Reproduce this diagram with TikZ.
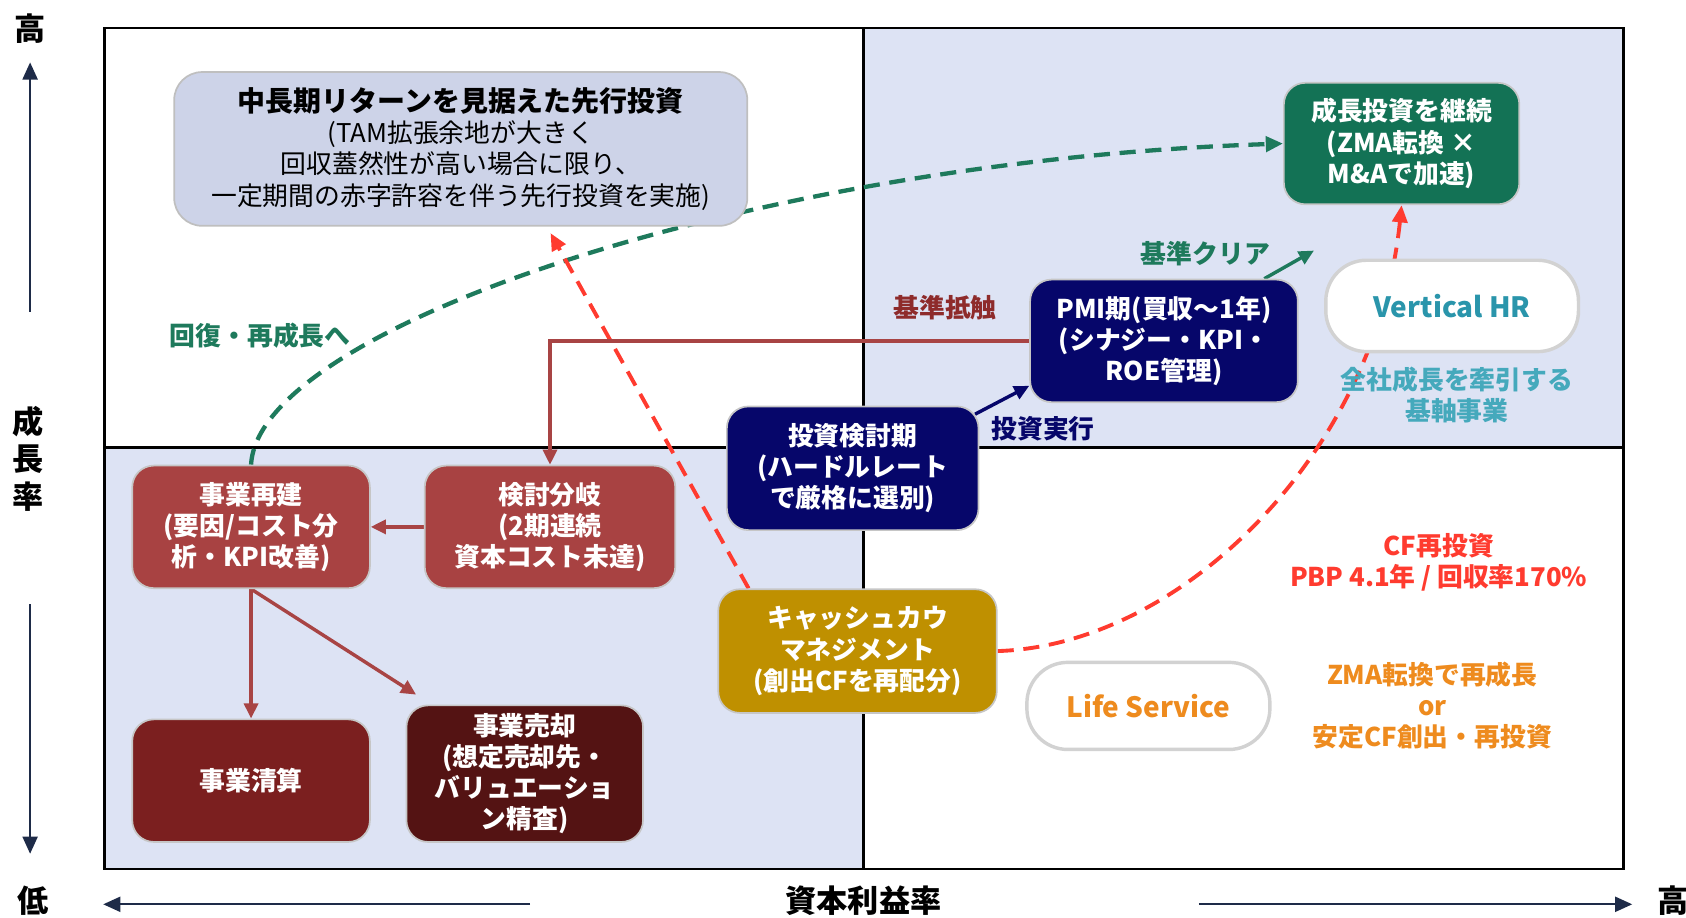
\documentclass[tikz,border=0pt]{standalone}
\usepackage{fontspec}
\setmainfont{Noto Sans CJK JP}
\usetikzlibrary{arrows.meta}
\definecolor{quad}{HTML}{DDE3F4}
\definecolor{tlfill}{HTML}{CDD3E8}
\definecolor{gbox}{HTML}{137255}
\definecolor{navy}{HTML}{06066A}
\definecolor{rbox}{HTML}{A84242}
\definecolor{liqc}{HTML}{7B1F1F}
\definecolor{sellc}{HTML}{541313}
\definecolor{gold}{HTML}{BF9000}
\definecolor{teal}{HTML}{2A95AB}
\definecolor{teall}{HTML}{45A9BC}
\definecolor{orng}{HTML}{EE8B1E}
\definecolor{rtxt}{HTML}{FF3B2F}
\definecolor{gtxt}{HTML}{1E7A5C}
\definecolor{drtxt}{HTML}{8E2B2B}
\definecolor{axisc}{HTML}{1E2B48}
\definecolor{rline}{HTML}{A84444}
\pgfdeclarelayer{bg}
\pgfdeclarelayer{mid}
\pgfsetlayers{bg,mid,main}
\tikzset{
  box/.style={rounded corners=10pt, draw=gray!45, line width=0.8pt, align=center,
    font=\bfseries\fontsize{12}{14.5}\selectfont, text=white, inner sep=0pt},
  pill/.style={rounded corners=19pt, draw=gray!35, line width=1.6pt, fill=white,
    font=\bfseries\fontsize{13}{15}\selectfont, inner sep=0pt},
  lbl/.style={font=\bfseries\fontsize{12}{14.5}\selectfont, align=center, inner sep=0pt},
  axlbl/.style={font=\bfseries\fontsize{14.5}{17}\selectfont, inner sep=0pt},
  axarrow/.style={draw=axisc, line width=1pt, -{Triangle[length=8pt,width=7pt]}},
  dashg/.style={draw=gtxt, line width=2pt, dash pattern=on 7.5pt off 4.5pt, -{Triangle[length=8pt,width=7pt]}},
  dashr/.style={draw=rtxt, line width=1.8pt, dash pattern=on 7.5pt off 4.5pt, -{Triangle[length=8pt,width=7pt]}},
  conn/.style={line width=1.6pt, -{Triangle[length=7pt,width=6.5pt]}}
}
\begin{document}
\begin{tikzpicture}[x=0.5pt,y=-0.5pt]
\useasboundingbox (0,0) rectangle (1568,853);
\begin{pgfonlayer}{bg}
  \fill[quad] (803,26) rectangle (1510,416);
  \fill[quad] (97,416) rectangle (803,808);
  \draw[line width=1.2pt] (97,26) rectangle (1510,808);
  \draw[line width=1.2pt] (803,26) -- (803,808);
  \draw[line width=1.2pt] (97,416) -- (1510,416);
\end{pgfonlayer}

% axes
\node[axlbl] (yhi) at (28,27) {高};
\node[axlbl] (ya) at (26,392) {成};
\node[axlbl] (yb) at (26,427) {長};
\node[axlbl] (yc) at (26,462) {率};
\node[axlbl] (ylo) at (31,838) {低};
\node[axlbl] (xlbl) at (803,838) {資本利益率};
\node[axlbl] (xhi) at (1556,838) {高};
\coordinate (yu0) at (28,290); \coordinate (yu1) at (28,58);
\coordinate (yd0) at (28,562); \coordinate (yd1) at (28,794);
\coordinate (xl0) at (493,841); \coordinate (xl1) at (96,841);
\coordinate (xr0) at (1115,841); \coordinate (xr1) at (1518,841);
\draw[axarrow] (yu0) -- (yu1);
\draw[axarrow] (yd0) -- (yd1);
\draw[axarrow] (xl0) -- (xl1);
\draw[axarrow] (xr0) -- (xr1);

% nodes
\node[box, rounded corners=13pt, fill=tlfill, text=black, draw=gray!50, minimum width=266.5pt, minimum height=71.5pt] (tl) at (428.5,138.5)
  {{\fontsize{13}{15.5}\selectfont 中長期リターンを見据えた先行投資}\\
   \mdseries (TAM拡張余地が大きく\\ \mdseries 回収蓋然性が高い場合に限り、\\ \mdseries 一定期間の赤字許容を伴う先行投資を実施)};
\node[box, fill=gbox, minimum width=109.5pt, minimum height=56.5pt] (grow) at (1303.5,133.5)
  {成長投資を継続\\(ZMA転換 ×\\M\&Aで加速)};
\node[pill, text=teal, minimum width=117.5pt, minimum height=42.5pt] (vhr) at (1350.5,284.5) {Vertical HR};
\node[box, fill=navy, minimum width=124.5pt, minimum height=57pt] (pmi) at (1082.5,317)
  {PMI期(買収～1年)\\(シナジー・KPI・\\ROE管理)};
\node[box, fill=navy, minimum width=117pt, minimum height=57.5pt] (inv) at (793,435.5)
  {投資検討期\\(ハードルレート\\で厳格に選別)};
\node[box, fill=rbox, minimum width=116.5pt, minimum height=57pt] (branch) at (511.5,490)
  {検討分岐\\(2期連続\\資本コスト未達)};
\node[box, fill=rbox, minimum width=110.5pt, minimum height=57pt] (rebuild) at (233.5,490)
  {事業再建\\(要因/コスト分\\析・KPI改善)};
\node[box, fill=liqc, minimum width=110.5pt, minimum height=57pt] (liq) at (233.5,726) {事業清算};
\node[box, fill=sellc, minimum width=110pt, minimum height=63.5pt] (sell) at (488,719.5)
  {事業売却\\(想定売却先・\\バリュエーショ\\ン精査)};
\node[box, fill=gold, minimum width=129.5pt, minimum height=57.5pt] (cash) at (797.5,605.5)
  {キャッシュカウ\\マネジメント\\(創出CFを再配分)};
\node[pill, text=orng, minimum width=113pt, minimum height=40.5pt] (life) at (1068,656.5) {Life Service};

% labels
\node[lbl, text=gtxt] (clrl) at (1121,236) {基準クリア};
\node[lbl, text=drtxt] (tchl) at (879,286) {基準抵触};
\node[lbl, text=navy] (exel) at (970,399) {投資実行};
\node[lbl, text=gtxt] (recl) at (242,312) {回復・再成長へ};
\node[lbl, text=rtxt] (cfl) at (1338,523) {CF再投資\\PBP 4.1年 / 回収率170\%};
\node[lbl, text=orng] (zmal) at (1332,656) {ZMA転換で再成長\\or\\安定CF創出・再投資};
\node[lbl, text=teall] (vhrl) at (1355,367) {全社成長を牽引する\\基軸事業};

% connectors
\coordinate (clr) at (1222,233);
\coordinate (sellarr) at (387,646);
\begin{pgfonlayer}{mid}
  \draw[dashg] (rebuild.north) .. controls (240,305) and (700,150) .. (grow.west);
  \draw[dashr] ([xshift=14.5pt]cash.north west) -- ([xshift=41.75pt,yshift=-3pt]tl.south);
  \draw[dashr] (cash.east) .. controls (1100,600) and (1280,420) .. (grow.south);
  \draw[conn, draw=navy] ([xshift=-2pt,yshift=-4pt]inv.north east) -- ([yshift=8pt]pmi.south west);
  \draw[conn, draw=gtxt] ([xshift=-16pt]pmi.north east) -- (clr);
  \draw[conn, draw=rline] (pmi.west) -| (branch.north);
  \draw[conn, draw=rline] (branch.west) -- (rebuild.east);
  \draw[conn, draw=rline] (rebuild.south) -- (liq.north);
  \draw[conn, draw=rline] (rebuild.south) -- (sellarr);
\end{pgfonlayer}
\end{tikzpicture}
\end{document}
